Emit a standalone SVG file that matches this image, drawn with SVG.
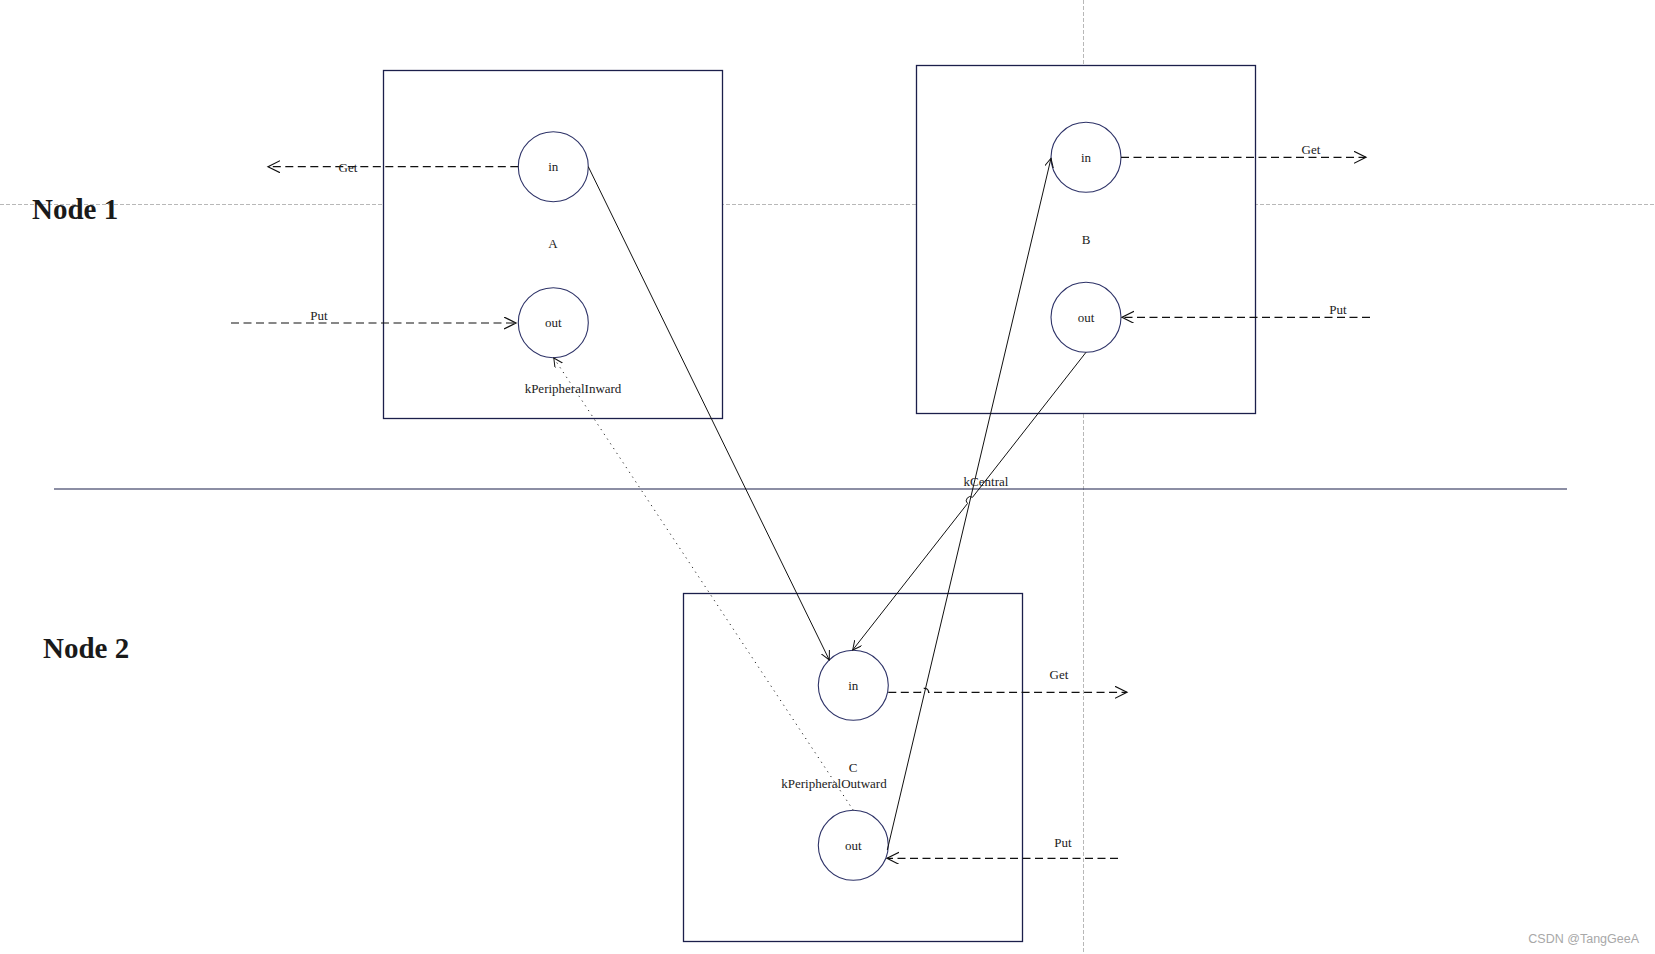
<svg xmlns="http://www.w3.org/2000/svg" width="1655" height="954" viewBox="0 0 1655 954">
<style>
.guide{stroke:#b8b8b8;stroke-width:1;stroke-dasharray:4 2;fill:none}
.box{fill:#fff;stroke:#1b1f4b;stroke-width:1.3}
.port{fill:#fff;stroke:#2e3368;stroke-width:1.1}
.lbl{font-family:"Liberation Serif",serif;font-size:13px;fill:#222;text-anchor:middle}
.title{font-family:"Liberation Serif",serif;font-size:29px;font-weight:bold;fill:#1a1a1a}
.dash{fill:none;stroke:#111;stroke-width:1.2;stroke-dasharray:8 4.5}
.solid{fill:none;stroke:#111;stroke-width:1}
.dot{fill:none;stroke:#222;stroke-width:1;stroke-dasharray:1.2 4.5}
</style>
<defs>
<marker id="big" markerWidth="14" markerHeight="14" refX="12" refY="6" orient="auto" markerUnits="userSpaceOnUse">
<path d="M0,0 L12,6 L0,12" fill="none" stroke="#111" stroke-width="1.2"/>
</marker>
<marker id="small" markerWidth="12" markerHeight="12" refX="9" refY="4.5" orient="auto" markerUnits="userSpaceOnUse">
<path d="M0,0 L9,4.5 L0,9" fill="none" stroke="#111" stroke-width="1"/>
</marker>
</defs>
<rect width="1655" height="954" fill="#fff"/>
<g id="guides">
<line class="guide" x1="0" y1="204.5" x2="1655" y2="204.5"/>
<line class="guide" x1="1083.5" y1="0" x2="1083.5" y2="954"/>
</g>
<g id="titles">
<text class="title" x="32" y="219">Node 1</text>
<text class="title" x="43" y="658">Node 2</text>
</g>
<g id="divider">
<line x1="54" y1="489" x2="1567" y2="489" stroke="#1b1f4b" stroke-width="1.2"/>
<text class="lbl" x="986" y="486">kCentral</text>
</g>
<g id="nodeA">
<rect class="box" x="383.5" y="70.5" width="339" height="348"/>
<text class="lbl" x="553" y="248">A</text>
<text class="lbl" x="573" y="393">kPeripheralInward</text>
<g id="A-in"><circle class="port" cx="553.3" cy="166.7" r="35"/><text class="lbl" x="553.3" y="171">in</text></g>
<g id="A-out"><circle class="port" cx="553.3" cy="322.7" r="35"/><text class="lbl" x="553.3" y="327">out</text></g>
</g>
<g id="nodeB">
<rect class="box" x="916.5" y="65.5" width="339" height="348"/>
<text class="lbl" x="1086" y="244">B</text>
<g id="B-in"><circle class="port" cx="1086" cy="157.3" r="35"/><text class="lbl" x="1086" y="162">in</text></g>
<g id="B-out"><circle class="port" cx="1086" cy="317.3" r="35"/><text class="lbl" x="1086" y="322">out</text></g>
</g>
<g id="nodeC">
<rect class="box" x="683.5" y="593.5" width="339" height="348"/>
<text class="lbl" x="853" y="772">C</text>
<text class="lbl" x="834" y="788">kPeripheralOutward</text>
<g id="C-in"><circle class="port" cx="853.3" cy="685.3" r="35"/><text class="lbl" x="853.3" y="690">in</text></g>
<g id="C-out"><circle class="port" cx="853.3" cy="845.3" r="35"/><text class="lbl" x="853.3" y="850">out</text></g>
</g>
<g id="connectors">
<path class="dash" d="M518.3,166.7 L268,166.7" marker-end="url(#big)"/>
<text class="lbl" x="348" y="171.5">Get</text>
<path class="dash" d="M231,323 L516,323" marker-end="url(#big)"/>
<text class="lbl" x="319" y="320">Put</text>
<path class="dash" d="M1121,157.3 L1366,157.3" marker-end="url(#big)"/>
<text class="lbl" x="1311" y="154">Get</text>
<path class="dash" d="M1370,317.3 L1122,317.3" marker-end="url(#big)"/>
<text class="lbl" x="1338" y="314">Put</text>
<path class="dash" d="M888.3,692.3 L920.6,692.3 A4,4 0 0 1 928.6,692.3 L1127,692.3" marker-end="url(#big)"/>
<text class="lbl" x="1059" y="679">Get</text>
<path class="dash" d="M1118,858.3 L887,858.3" marker-end="url(#big)"/>
<text class="lbl" x="1063" y="847">Put</text>
<path class="solid" d="M588.3,166.7 L829.3,660" marker-end="url(#small)"/>
<path class="solid" d="M1086,352.3 L972.5,497.3 A4,4 0 0 0 967.5,503.5 L852.7,650" marker-end="url(#small)"/>
<path class="solid" d="M887.3,850 L1051,158.3" marker-end="url(#small)"/>
<path class="dot" d="M853.3,810.3 L553.8,358" marker-end="url(#small)"/>
</g>
<text x="1639" y="943" font-family="'Liberation Sans',sans-serif" font-size="12.5" fill="#a8a8a8" text-anchor="end">CSDN @TangGeeA</text>
</svg>
